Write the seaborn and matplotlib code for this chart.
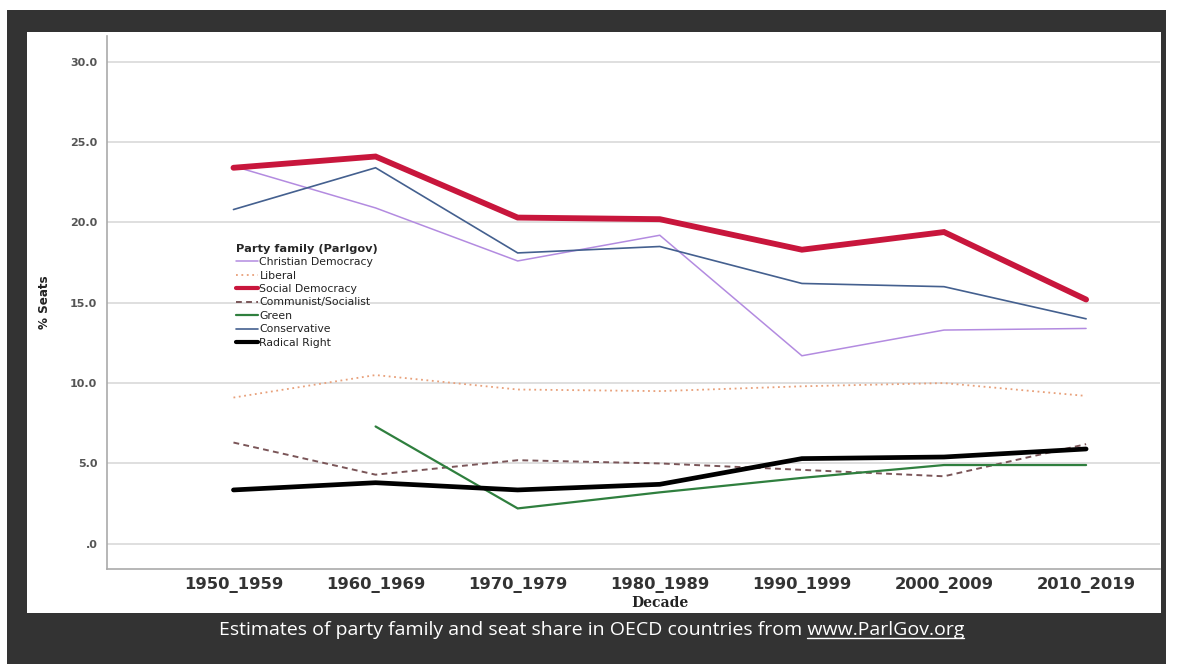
import numpy as np
import pandas as pd
import matplotlib
matplotlib.use("Agg")
import matplotlib.pyplot as plt
import seaborn as sns
from matplotlib import font_manager
from matplotlib.patches import Rectangle
from matplotlib.lines import Line2D

# ---------------- data ----------------
decades = ["1950_1959", "1960_1969", "1970_1979", "1980_1989",
           "1990_1999", "2000_2009", "2010_2019"]
christian_democracy = [23.5, 20.9, 17.6, 19.2, 11.7, 13.3, 13.4]
liberal = [9.1, 10.5, 9.6, 9.5, 9.8, 10.0, 9.2]
social_democracy = [23.4, 24.1, 20.3, 20.2, 18.3, 19.4, 15.2]
communist_socialist = [6.3, 4.3, 5.2, 5.0, 4.6, 4.2, 6.2]
green = [np.nan, 7.3, 2.2, 3.2, 4.1, 4.9, 4.9]
conservative = [20.8, 23.4, 18.1, 18.5, 16.2, 16.0, 14.0]
radical_right = [3.35, 3.8, 3.35, 3.7, 5.3, 5.4, 5.9]

series_names = ["Christian Democracy", "Liberal", "Social Democracy",
                "Communist/Socialist", "Green", "Conservative", "Radical Right"]
series_values = [christian_democracy, liberal, social_democracy,
                 communist_socialist, green, conservative, radical_right]
y_ticks = [0, 5, 10, 15, 20, 25, 30]
y_tick_labels = [".0", "5.0", "10.0", "15.0", "20.0", "25.0", "30.0"]
legend_title = "Party family (Parlgov)"
caption_main = "Estimates of party family and seat share in OECD countries from "
caption_link = "www.ParlGov.org"

styles = {
    "Christian Democracy": dict(color="#b38be0", lw=1.1, ls="-"),
    "Liberal": dict(color="#e8a07a", lw=1.3, ls=(0, (1, 2))),
    "Social Democracy": dict(color="#c8163c", lw=4.2, ls="-"),
    "Communist/Socialist": dict(color="#7a5558", lw=1.4, ls=(0, (3, 2.2))),
    "Green": dict(color="#2f7f3e", lw=1.6, ls="-"),
    "Conservative": dict(color="#44608f", lw=1.2, ls="-"),
    "Radical Right": dict(color="#000000", lw=3.4, ls="-"),
}

caption_font = "Open Sans"

sns.set_theme(style="white")
plt.rcParams["font.family"] = ["DejaVu Sans"]

W, H = 1183, 664
fig = plt.figure(figsize=(W / 100, H / 100), dpi=100)
fig.patch.set_facecolor("white")

def px_rect(x0, y0, x1, y1, color):
    fig.patches.append(Rectangle((x0 / W, 1 - y1 / H), (x1 - x0) / W, (y1 - y0) / H,
                                 transform=fig.transFigure, facecolor=color,
                                 edgecolor="none", zorder=-10))

px_rect(7, 10, 1166, 664, "#333333")
px_rect(27, 32, 1161, 613, "#ffffff")

ax_left, ax_right, ax_top, ax_bottom = 107, 1160, 36, 569
ax = fig.add_axes([ax_left / W, 1 - ax_bottom / H, (ax_right - ax_left) / W,
                   (ax_bottom - ax_top) / H])
ax.set_facecolor("none")

xpos = np.arange(len(decades))
for name, vals in zip(series_names, series_values):
    st = styles[name]
    df = pd.DataFrame({"x": xpos, "y": vals}).dropna()
    sns.lineplot(data=df, x="x", y="y", ax=ax, color=st["color"], linewidth=st["lw"],
                 linestyle=st["ls"], errorbar=None, label=name, legend=False,
                 solid_joinstyle="miter", zorder=3)

ax.set_xlim(-0.89, 6.52)
ax.set_ylim(-1.57, 31.6)
ax.set_yticks(y_ticks)
ax.set_yticklabels(y_tick_labels)
ax.set_xticks(xpos)
ax.set_xticklabels(decades)
ax.grid(axis="y", color="#d9d9d9", lw=1.2, zorder=0)
ax.grid(axis="x", visible=False)
for s in ["top", "right"]:
    ax.spines[s].set_visible(False)
for s in ["left", "bottom"]:
    ax.spines[s].set_color("#aaaaaa")
    ax.spines[s].set_linewidth(1.2)
ax.tick_params(axis="y", length=0, pad=7, labelsize=8, labelcolor="#555555")
ax.tick_params(axis="x", length=0, pad=6, labelsize=11.8, labelcolor="#333333")
for t in ax.get_xticklabels() + ax.get_yticklabels():
    t.set_fontweight("bold")

ax.set_xlabel("Decade", fontsize=10, fontweight="bold", family="DejaVu Serif",
              color="#222222", va="center")
ax.xaxis.set_label_coords((660 - ax_left) / (ax_right - ax_left),
                          -(603 - ax_bottom) / (ax_bottom - ax_top))
ax.set_ylabel("% Seats", fontsize=9.5, fontweight="bold", fontstretch="condensed",
              color="#222222", va="center")
ax.yaxis.set_label_coords(-(ax_left - 44) / (ax_right - ax_left),
                          (ax_bottom - 302) / (ax_bottom - ax_top))

handles = []
for name in series_names:
    st = styles[name]
    handles.append(Line2D([], [], color=st["color"], lw=min(st["lw"], 3.0), ls=st["ls"]))
leg = ax.legend(handles, series_names, title=legend_title, loc="upper left",
                bbox_to_anchor=((228 - ax_left) / (ax_right - ax_left),
                                (ax_bottom - 236) / (ax_bottom - ax_top)),
                frameon=False, fontsize=7.8, title_fontsize=8.2, handlelength=2.1,
                handletextpad=0.1, labelspacing=0.32, borderpad=0.2, alignment="left")
leg.get_title().set_fontweight("bold")
for t in leg.get_texts():
    t.set_color("#222222")

cap_y = 1 - 630 / H
t_main = fig.text(0.5, cap_y, caption_main + caption_link, color="white",
                  fontsize=14, family=caption_font, ha="center", va="center")
fig.canvas.draw()
r = fig.canvas.get_renderer()
bb = t_main.get_window_extent(r)
t_tmp = fig.text(0, 0, caption_link, fontsize=14, family=caption_font)
lw_px = t_tmp.get_window_extent(r).width
t_tmp.remove()
x1 = bb.x1
x0 = x1 - lw_px
yline = bb.y0 + 1
fig.add_artist(Line2D([x0 / W, x1 / W], [yline / H, yline / H], color="white", lw=1,
                      transform=fig.transFigure))

fig.savefig("out.png", dpi=100, facecolor=fig.get_facecolor())
